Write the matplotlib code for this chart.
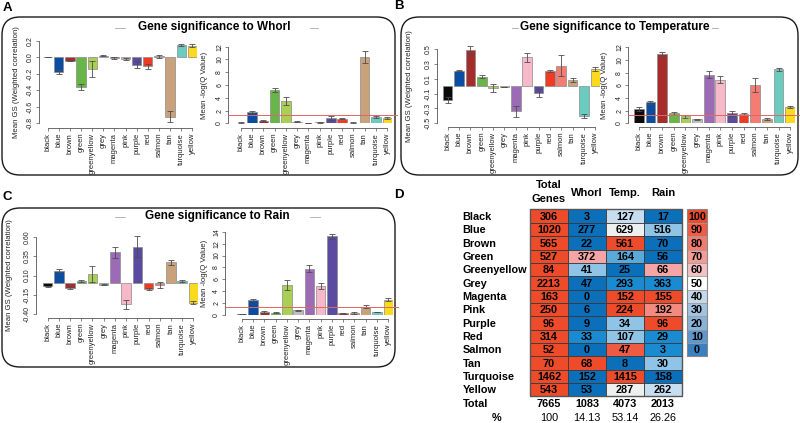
import matplotlib.pyplot as plt
import numpy as np
from matplotlib.patches import FancyBboxPatch, Rectangle

plt.rcParams['font.family'] = ['Liberation Sans', 'DejaVu Sans']

modules = ["black", "blue", "brown", "green", "greenyellow", "grey", "magenta",
           "pink", "purple", "red", "salmon", "tan", "turquoise", "yellow"]
bar_colors = ['#0a0a0a', '#0c4da2', '#a52c2a', '#6ab547', '#a9cf55', '#c0c0c0', '#9b6bb5',
              '#f7b9c9', '#5a4ba0', '#ee3b24', '#f47c72', '#c9a27c', '#6ccbbf', '#fbd91c']

# gene significance (weighted correlation) and -log(Q) per module
gs_whorl = [0.003, -0.18, -0.04, -0.36, -0.14, 0.02, -0.01, -0.02, -0.09, -0.11, 0.01, -0.72, 0.15, 0.14]
gs_whorl_err = [0.005, 0.02, 0.01, 0.04, 0.095, 0.01, 0.01, 0.015, 0.04, 0.03, 0.02, 0.07, 0.01, 0.015]
q_whorl = [0.1, 1.75, 0.4, 5.2, 3.45, 0.25, 0.05, 0.2, 0.8, 0.75, 0.1, 10.4, 1.0, 0.8]
q_whorl_err = [0.03, 0.15, 0.08, 0.35, 0.65, 0.05, 0.02, 0.08, 0.3, 0.15, 0.05, 0.9, 0.1, 0.12]

gs_temp = [-0.19, 0.21, 0.49, 0.13, -0.025, -0.01, -0.34, 0.39, -0.09, 0.21, 0.28, 0.085, -0.40, 0.23]
gs_temp_err = [0.04, 0.01, 0.05, 0.02, 0.05, 0.005, 0.08, 0.06, 0.05, 0.015, 0.14, 0.03, 0.03, 0.025]
q_temp = [2.2, 3.3, 10.9, 1.6, 1.1, 0.6, 7.7, 6.9, 1.6, 1.5, 6.1, 0.7, 8.5, 2.6]
q_temp_err = [0.3, 0.25, 0.3, 0.25, 0.2, 0.05, 0.6, 0.6, 0.4, 0.15, 1.1, 0.2, 0.2, 0.2]

gs_rain = [-0.04, 0.16, -0.06, 0.025, 0.12, -0.02, 0.40, -0.27, 0.47, -0.07, -0.02, 0.27, 0.03, -0.25]
gs_rain_err = [0.01, 0.02, 0.015, 0.015, 0.1, 0.005, 0.07, 0.06, 0.135, 0.015, 0.04, 0.03, 0.01, 0.02]
q_rain = [0.2, 2.5, 0.5, 0.4, 5.0, 0.8, 7.8, 4.8, 13.2, 0.3, 0.35, 1.4, 0.5, 2.6]
q_rain_err = [0.03, 0.15, 0.1, 0.08, 0.8, 0.05, 0.6, 0.5, 0.4, 0.08, 0.1, 0.3, 0.05, 0.3]

# panel D: genes per module
total_genes = [306, 1020, 565, 527, 84, 2213, 163, 250, 96, 314, 52, 70, 1462, 543]
whorl_genes = [3, 277, 22, 372, 41, 47, 0, 6, 9, 33, 0, 68, 152, 53]
temp_genes = [127, 629, 561, 164, 25, 293, 152, 224, 34, 107, 47, 8, 1415, 287]
rain_genes = [17, 516, 70, 56, 66, 363, 155, 192, 96, 29, 3, 30, 158, 262]
# shading level (colour key bin) of each cell
total_bin = [100] * 14
whorl_bin = [0, 0, 0, 70, 30, 0, 0, 0, 0, 10, 0, 100, 0, 0]
temp_bin = [40, 50, 100, 20, 0, 10, 100, 100, 30, 30, 90, 0, 100, 50]
rain_bin = [0, 30, 0, 0, 70, 10, 100, 80, 100, 10, 10, 30, 0, 40]
key_levels = [100, 90, 80, 70, 60, 50, 40, 30, 20, 10, 0]

cell_palette = ['#0b6fba', '#1a8bd0', '#5aa9db', '#8fc4e6', '#c6def0', '#edf0ef',
                '#f7c9cc', '#f5a5a6', '#f28a80', '#ef5a42', '#ee4b2a']
key_palette = ['#3a80c0', '#5e97cb', '#88b2d8', '#a2c2df', '#c5d8ea', '#ffffff',
               '#f5c2c4', '#f39b95', '#f07b6e', '#ee5c45', '#ec4b2e']

W, H = 800, 423
fig = plt.figure(figsize=(W / 100, H / 100), dpi=100)


def px_axes(x0, x1, y0, y1):
    return fig.add_axes([x0 / W, 1 - y1 / H, (x1 - x0) / W, (y1 - y0) / H])


bg = px_axes(0, W, 0, H)
bg.set_xlim(0, W)
bg.set_ylim(H, 0)
bg.axis('off')


def bar_panel(box, vals, errs, ticks, ticklabels, ylabel, spine_x, axis_y, label_x, qline=False):
    x0, x1, y0, y1 = box
    ax = px_axes(x0, x1, y0, y1)
    ax.patch.set_alpha(0)
    pos = 0.7 + 1.2 * np.arange(len(vals))
    ax.bar(pos, vals, width=1.0, color=bar_colors, edgecolor='#8a8a8a', linewidth=0.5, zorder=2)
    eb = ax.errorbar(pos, vals, yerr=errs, fmt='none', ecolor='#4d4d4d', elinewidth=0.6,
                     capsize=2, capthick=0.6, zorder=3)
    for a in eb.lines[1] + eb.lines[2]:
        a.set_clip_on(False)
    ax.set_xlim(0.2, 16.8)
    ax.set_ylim(ticks[0], ticks[-1])
    for s in ['top', 'right']:
        ax.spines[s].set_visible(False)
    for s in ['left', 'bottom']:
        ax.spines[s].set_color('#555555')
        ax.spines[s].set_linewidth(0.6)
    ax.spines['left'].set_position(('outward', (x0 - spine_x) * 0.72))
    ax.spines['left'].set_bounds(ticks[0], ticks[-1])
    ax.spines['bottom'].set_position(('outward', (axis_y - y1) * 0.72))
    ax.spines['bottom'].set_bounds(pos[0], pos[-1])
    ax.set_yticks(ticks)
    ax.set_yticklabels(ticklabels, rotation=90, va='center', fontsize=5, color='#222222')
    ax.set_xticks(pos)
    ax.set_xticklabels(modules, rotation=90, fontsize=5.5, color='#222222')
    ax.tick_params(length=2.5, width=0.5, color='#555555', pad=1)
    ax.set_ylabel(ylabel, fontsize=5.6, color='#222222')
    ax.yaxis.set_label_coords((label_x - x0) / (x1 - x0), 0.5)
    if qline:
        ax.plot([(spine_x - x0) / (x1 - x0), (x1 + 5 - x0) / (x1 - x0)], [1.3, 1.3],
                transform=ax.get_yaxis_transform(), color='#e06666', lw=0.7,
                clip_on=False, zorder=4)
    return ax


gs_label = 'Mean GS (Weighted correlation)'
q_label = 'Mean -log(Q Value)'

# A - Whorl
bar_panel((43, 197, 40.7, 123.3), gs_whorl, gs_whorl_err, [-0.8, -0.6, -0.4, -0.2, 0.0, 0.2],
          ['-0.8', '-0.6', '-0.4', '-0.2', '0.0', '0.2'], gs_label, 39, 128, 20)
bar_panel((236, 392, 46.7, 123.3), q_whorl, q_whorl_err, [0, 2, 4, 6, 8, 10, 12],
          ['0', '2', '4', '6', '8', '10', '12'], q_label, 228, 128, 208, qline=True)

# B - Temperature
bar_panel((443, 600, 49.3, 123.3), gs_temp, gs_temp_err, [-0.5, -0.3, -0.1, 0.1, 0.3, 0.5],
          ['-0.5', '-0.3', '-0.1', '0.1', '0.3', '0.5'], gs_label, 437, 127, 413)
bar_panel((634, 795, 47.3, 123.3), q_temp, q_temp_err, [0, 2, 4, 6, 8, 10, 12],
          ['0', '2', '4', '6', '8', '10', '12'], q_label, 628, 127, 608, qline=True)

# C - Rain
bar_panel((43, 198, 236.7, 314.3), gs_rain, gs_rain_err, [-0.40, -0.15, 0.10, 0.35, 0.60],
          ['-0.40', '-0.15', '0.10', '0.35', '0.60'], gs_label, 36, 318, 13)
bar_panel((237, 393, 231.7, 315), q_rain, q_rain_err, [0, 2, 4, 6, 8, 10, 12, 14],
          ['0', '2', '4', '6', '8', '10', '12', '14'], q_label, 225, 319, 208, qline=True)

# boxes, titles, panel letters
boxes = [(2, 17, 393, 158), (401, 17, 397, 158), (2, 208, 393, 159)]
for bx, by, bw, bh in boxes:
    bg.add_patch(FancyBboxPatch((bx, by), bw, bh, boxstyle='round,pad=0,rounding_size=18',
                                fill=False, edgecolor='#1a1a1a', lw=1.0))
titles = [('Gene significance to Whorl', 214, 27, (115, 125), (310, 318)),
          ('Gene significance to Temperature', 615, 27, (512, 518), (712, 718)),
          ('Gene significance to Rain', 217, 216, (115, 125), (310, 320))]
for txt, tx, ty, l1, l2 in titles:
    bg.text(tx, ty, txt, ha='center', va='center', fontsize=8.5, weight='bold')
    bg.plot(l1, [ty + 1, ty + 1], color='#aaaaaa', lw=0.6)
    bg.plot(l2, [ty + 1, ty + 1], color='#aaaaaa', lw=0.6)
for lab, lx, ly in [('A', 7, 8), ('B', 399, 6), ('C', 7, 197), ('D', 399, 195)]:
    bg.text(lx, ly, lab, ha='center', va='center', fontsize=9.5, weight='bold')

# D - table
ax_d = px_axes(530, 682, 209.5, 396.2)
ax_d.set_xlim(0, 4)
ax_d.set_ylim(14, 0)
ax_d.axis('off')
columns = [total_genes, whorl_genes, temp_genes, rain_genes]
bins = [total_bin, whorl_bin, temp_bin, rain_bin]
for j in range(4):
    for i in range(len(modules)):
        ax_d.add_patch(Rectangle((j, i), 1, 1, facecolor=cell_palette[bins[j][i] // 10],
                                 edgecolor='#3a3a3a', lw=0.6, clip_on=False))
        ax_d.text(j + 0.5, i + 0.55, str(columns[j][i]), ha='center', va='center',
                  fontsize=7.8, weight='bold')
ax_d.add_patch(Rectangle((0, 0), 4, 14, fill=False, edgecolor='#555555', lw=1.0, clip_on=False))
for i, m in enumerate(modules):
    ax_d.text(-1.77, i + 0.55, m.capitalize(), ha='left', va='center', fontsize=7.8, weight='bold')

col_totals = [sum(c) for c in columns]
pcts = ['100'] + ['%.2f' % (100 * t / col_totals[0]) for t in col_totals[1:]]
ax_d.text(-1.77, 14.58, 'Total', ha='left', va='center', fontsize=7.8, weight='bold')
ax_d.text(-0.87, 15.63, '%', ha='center', va='center', fontsize=7.8, weight='bold')
for j in range(4):
    ax_d.text(j + 0.5, 14.58, str(col_totals[j]), ha='center', va='center', fontsize=7.8, weight='bold')
    ax_d.text(j + 0.5, 15.63, pcts[j], ha='center', va='center', fontsize=7.8)

ax_d.text(0.5, -1.84, 'Total', ha='center', va='center', fontsize=8, weight='bold')
ax_d.text(0.5, -0.79, 'Genes', ha='center', va='center', fontsize=8, weight='bold')
for j, h in enumerate(['Whorl', 'Temp.', 'Rain']):
    ax_d.text(j + 1.5, -1.24, h, ha='center', va='center', fontsize=8, weight='bold')

# colour key
for k, lev in enumerate(key_levels):
    ax_d.add_patch(Rectangle((4.13, k), 0.53, 1, facecolor=key_palette[lev // 10],
                             edgecolor='#9a9a9a', lw=0.5, clip_on=False))
    ax_d.text(4.395, k + 0.55, str(lev), ha='center', va='center', fontsize=7.8, weight='bold')
ax_d.add_patch(Rectangle((4.13, 0), 0.53, len(key_levels), fill=False, edgecolor='#888888',
                         lw=0.8, clip_on=False))

fig.savefig('out.png', dpi=100)
